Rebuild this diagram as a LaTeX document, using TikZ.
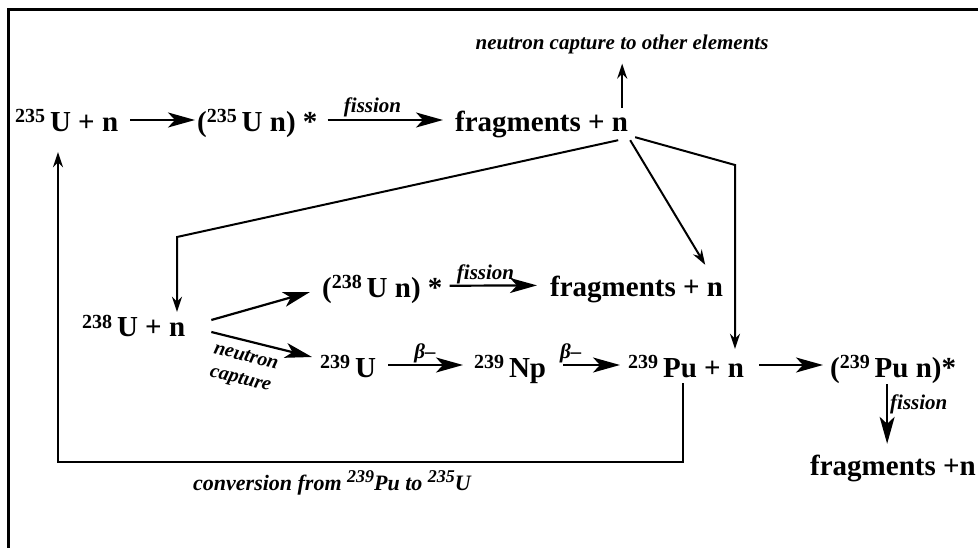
\documentclass[tikz,border=0pt]{standalone}
\usepackage{fontspec}
\setmainfont{Liberation Serif}
\usetikzlibrary{arrows.meta,positioning}

\newcommand{\iso}[2]{\raisebox{9pt}{\fontsize{20}{20}\selectfont #1}\,#2}
\newcommand{\isol}[2]{\raisebox{8pt}{\fontsize{18}{18}\selectfont #1}#2}

\tikzset{
  spec/.style={font=\fontsize{29}{34}\selectfont\bfseries, inner sep=0pt,
    text height=28pt, text depth=4pt, anchor=base west},
  lab/.style={font=\fontsize{21}{24}\selectfont\bfseries\itshape, inner sep=2pt},
  rx/.style={-{Stealth[length=27pt,width=15pt,inset=7pt]}, line width=2.2pt},
  con/.style={-{Stealth[length=15pt,width=10pt]}, line width=2pt},
}

\begin{document}
\begin{tikzpicture}[x=1pt,y=-1pt]
        \useasboundingbox (0,0) rectangle (978,548);
        \draw[line width=3pt] (8,548) -- (8,10) -- (978,10);

        % U-235 chain
        \node[spec] (u235) at (15,132) {\iso{235}{U} + n};
        \node[spec] (u235n) at (197,132) {(\iso{235}{U} n) *};
        \node[spec] (frag1) at (455,132) {fragments + n};
        \node[lab,anchor=base] (other) at (622,50) {neutron capture to other elements};

        % U-238 chain
        \node[spec] (u238) at (82,337) {\iso{238}{U} + n};
        \node[spec] (u238n) at (322,298) {(\iso{238}{U} n) *};
        \node[spec] (frag2) at (550,297) {fragments + n};
        \node[spec] (u239) at (320,377) {\iso{239}{U}};
        \node[spec] (np239) at (474,377) {\iso{239}{Np}};
        \node[spec] (pu239) at (628,377) {\iso{239}{Pu} + n};
        \node[spec] (pu239n) at (830,377) {(\iso{239}{Pu} n)*};
        \node[spec] (frag3) at (810,475) {fragments +n};
        \node[lab,rotate=-14,align=center,inner sep=0pt,font=\fontsize{20}{23}\selectfont\bfseries\itshape]
          (ncap) at (243,369) {neutron\\capture};
        \node[lab,anchor=base,font=\fontsize{22}{24}\selectfont\bfseries\itshape] (conv) at (332,490)
          {conversion from \isol{239}{Pu} to \isol{235}{U}};

        % (yshift is in page direction: + is up)
        \coordinate (up) at ([xshift=-6pt,yshift=-4pt]frag1.north east);
        \coordinate (k1) at (177,237);
        \coordinate (k2) at (735,165);
        \coordinate (lp) at (58,462);

        \draw[rx,shorten <=12pt,shorten >=2pt] (u235) -- (u235n);
        \draw[rx,shorten <=10pt,shorten >=12pt] (u235n) -- node[lab,above,pos=0.4] {fission} (frag1);
        \draw[con,shorten >=7pt] (up) -- (up |- other.south);
        \draw[con] ([xshift=-10pt,yshift=-4pt]frag1.south east) -- (k1) -- ([yshift=-3pt]k1 |- u238.north);
        \draw[con] ([xshift=2pt,yshift=-4pt]frag1.south east) -- ([xshift=-18pt,yshift=4pt]frag2.north east);
        \draw[con] ([xshift=7pt,yshift=-1pt]frag1.south east) -- (k2) -- (k2 |- pu239.north);

        \draw[rx] ([xshift=26pt,yshift=5pt]u238.east) -- ([xshift=-12pt,yshift=-6pt]u238n.west);
        \draw[rx] ([xshift=26pt,yshift=-7pt]u238.east) -- ([xshift=-8pt,yshift=8pt]u239.west);
        \draw[rx,shorten <=7pt,shorten >=13pt] (u238n) -- node[lab,above,pos=0.4,inner sep=1pt] {fission} (frag2);

        \draw[rx,shorten <=12pt,shorten >=11pt] (u239) -- node[lab,above,inner sep=1pt] {β–} (np239);
        \draw[rx,shorten <=17pt,shorten >=8pt] (np239) -- node[lab,above,pos=0.3,inner sep=1pt] {β–} (pu239);
        \draw[rx,shorten <=15pt,shorten >=7pt] (pu239) -- (pu239n);
        \draw[rx,shorten <=3pt,shorten >=3pt] ([xshift=-6pt]pu239n.south) -- node[lab,right,pos=0.35] {fission} ([xshift=-6pt]pu239n.south |- frag3.north);

        % back to U-235
        \draw[con,shorten >=16pt] ([xshift=-3pt,yshift=-2pt]pu239.south) |- (lp) -- (lp |- u235.south);
      \end{tikzpicture}
\end{document}
